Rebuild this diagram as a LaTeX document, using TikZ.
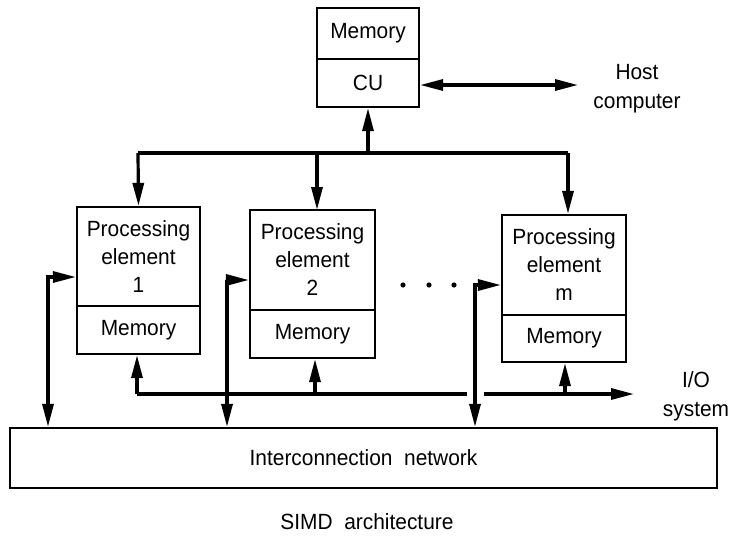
\documentclass[tikz,border=0pt]{standalone}
\usepackage{fontspec}
\setmainfont[FakeStretch=0.95]{Liberation Sans}
\usetikzlibrary{arrows.meta}
\begin{document}
\begin{tikzpicture}[x=1pt,y=-1pt,
  tip/.tip={Triangle[length=23pt,width=11pt]},
  box/.style={draw,line width=2.2pt,minimum width=#1,inner sep=0pt,align=center,font=\fontsize{22}{28}\selectfont},
  conn/.style={line width=3.2pt,-tip},
  biconn/.style={line width=3.2pt,tip-tip},
  lbl/.style={align=center,font=\fontsize{22}{29}\selectfont}]
\useasboundingbox (0,0) rectangle (734,536);
% control unit
\node[box=102pt,minimum height=51pt] (cumem) at (368,33.5) {Memory};
\node[box=102pt,minimum height=48pt] (cu) at (368,83) {CU};
\node[lbl] (host) at (637,89) {Host\\computer};
\coordinate (hostend) at (578,85);
\draw[biconn] (cu.east |- 0,85) -- (hostend);
% processing elements
\node[box=123pt,minimum height=99pt] (pe1) at (138.5,256.5) {Processing\\element\\1};
\node[box=123pt,minimum height=48pt] (m1) at (138.5,330) {Memory};
\node[box=125pt,minimum height=100pt] (pe2) at (312.5,260) {Processing\\element\\2};
\node[box=125pt,minimum height=48pt] (m2) at (312.5,334) {Memory};
\node[box=124pt,minimum height=100pt] (pem) at (564,265) {Processing\\element\\m};
\node[box=124pt,minimum height=47pt] (mm) at (564,338.5) {Memory};
% dots
\foreach \x [count=\i] in {403,429,454} \fill (\x,285) circle (2.6pt) coordinate (dot\i);
% bus
\coordinate (busL) at (138,153);
\coordinate (busR) at (568,153);
\coordinate (busC) at (368,153);
\draw[line width=3.2pt] (busL) -- (busR);
\draw[conn] (busC) -- (cu.south);
\draw[conn] (busL) -- (pe1.north);
\draw[conn] (busL -| 317,0) -- (317,210);
\draw[conn] (busR) -- (pem.north -| busR);
% interconnection network
\node[box=707pt,minimum height=60pt] (net) at (363.5,458) {Interconnection\ \ network};
\node[lbl] (cap) at (367,522) {SIMD\ \ architecture};
% PE <-> network links
\coordinate (l1) at (48,277);
\coordinate (l2) at (227,280);
\coordinate (l3) at (475,285);
\draw[biconn] (l1 |- net.north) -- (l1) -- (pe1.west |- l1);
\draw[biconn] (l2 |- net.north) -- (l2) -- (pe2.west |- l2);
\draw[biconn] (l3 |- net.north) -- (l3) -- (pem.west |- l3);
% I/O
\node[lbl] (io) at (696,396) {I/O\\system};
\coordinate (io1) at (137,394);
\coordinate (io2) at (315,394);
\coordinate (io3) at (565,394);
\coordinate (gapL) at (467,394);
\coordinate (gapR) at (484,394);
\coordinate (ioend) at (634,394);
\draw[line width=3.2pt] (io1) -- (gapL);
\draw[conn] (gapR) -- (ioend);
\draw[conn] (io1) -- (m1.south -| io1);
\draw[conn] (io2) -- (m2.south -| io2);
\draw[conn] (io3) -- (mm.south -| io3);
\end{tikzpicture}
\end{document}
